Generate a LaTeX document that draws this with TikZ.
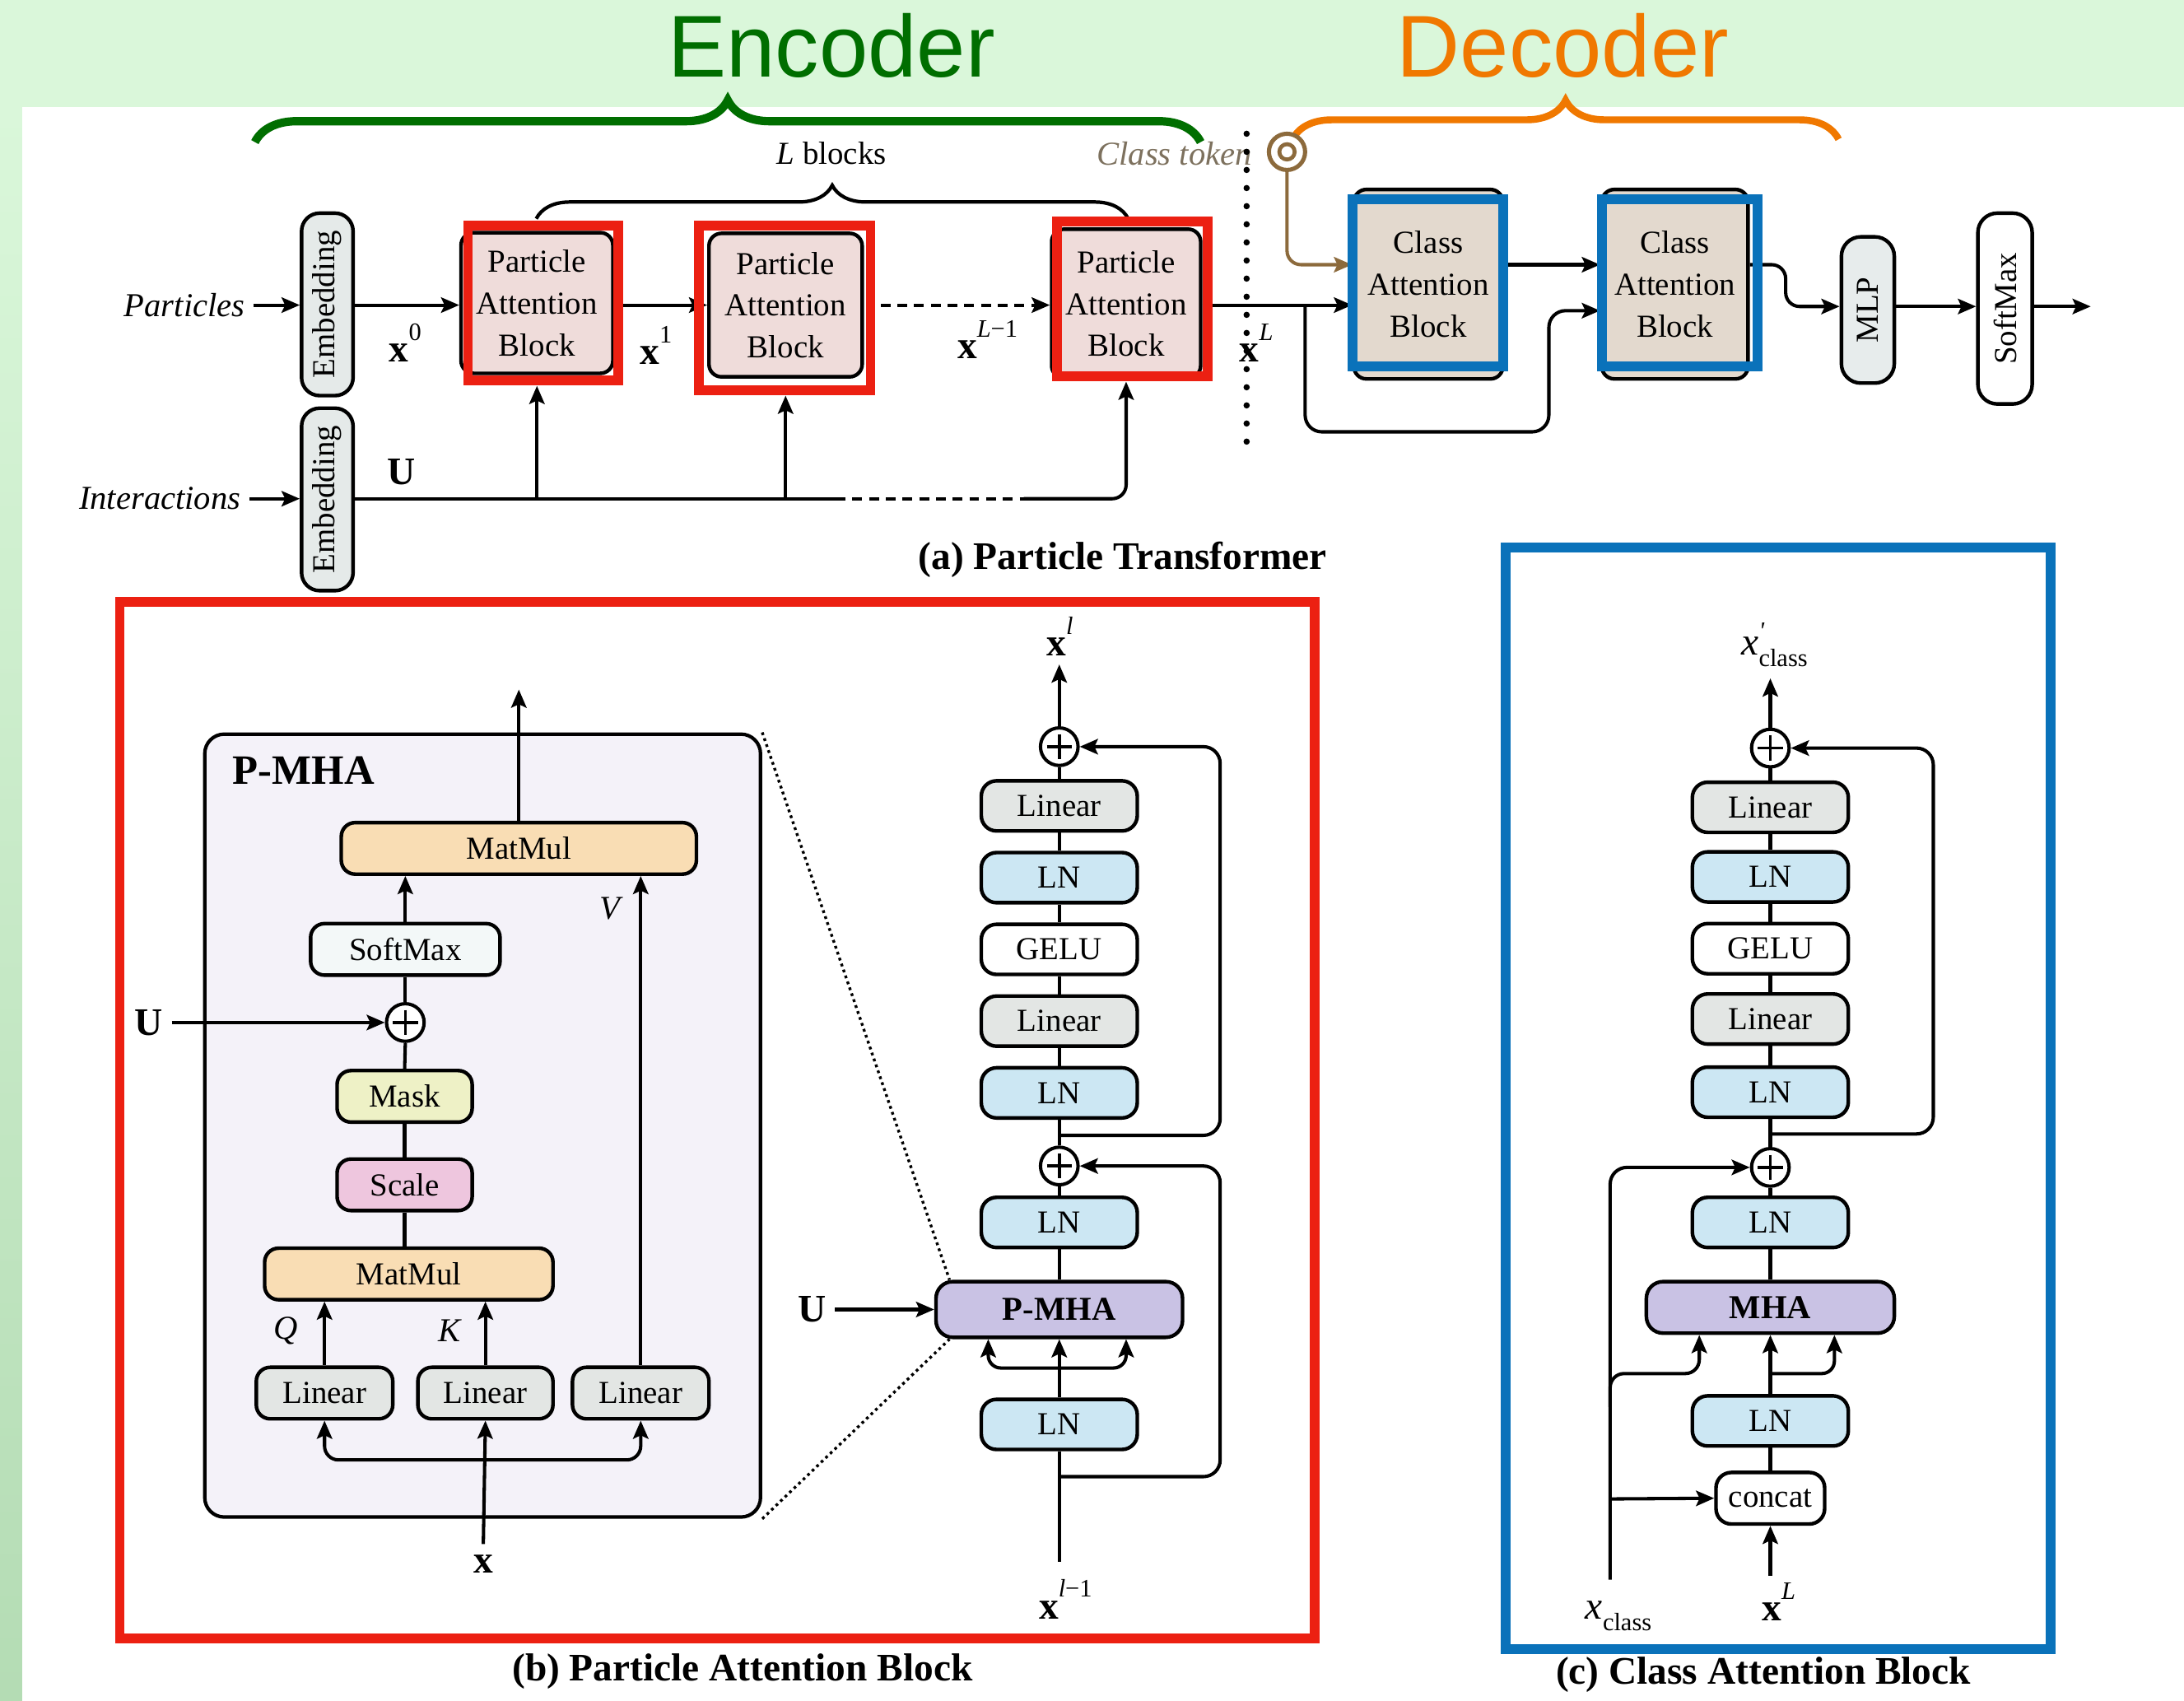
\documentclass[tikz,border=0pt]{standalone}
\usepackage{fontspec}
\setmainfont{Liberation Serif}
\newfontfamily\hdrfont{Liberation Sans}
\usetikzlibrary{arrows.meta,decorations.pathreplacing,calc}
\definecolor{bggreen}{HTML}{DAF7DA}
\definecolor{bgdark}{HTML}{B4DCB4}
\definecolor{encgreen}{HTML}{006E00}
\definecolor{decorange}{HTML}{F07800}
\definecolor{embfill}{HTML}{E5EAE9}
\definecolor{pabfill}{HTML}{EFDCDA}
\definecolor{cabfill}{HTML}{E3D9CE}
\definecolor{mlpfill}{HTML}{E7ECEC}
\definecolor{linfill}{HTML}{E3E6E4}
\definecolor{lnfill}{HTML}{CCE7F3}
\definecolor{pmfill}{HTML}{C9C2E4}
\definecolor{mmfill}{HTML}{F9DDB4}
\definecolor{smfill}{HTML}{F3F8F8}
\definecolor{maskfill}{HTML}{EEF1C6}
\definecolor{scalefill}{HTML}{EEC6DE}
\definecolor{pmhabg}{HTML}{F4F2F9}
\definecolor{frred}{HTML}{EC2012}
\definecolor{frblue}{HTML}{0A72BA}
\definecolor{tokbrown}{HTML}{8C6A3C}
\definecolor{tokgray}{HTML}{7D715E}
\newcommand{\fsz}[2]{\fontsize{#1}{#2}\selectfont}
\newcommand{\bx}{\textbf{x}}
\newcommand{\sups}[1]{\raisebox{0.55em}{\fsz{18}{18}#1}}
\newcommand{\xcls}{\textit{x}\raisebox{-0.3em}{\fsz{18}{18}class}}
\newcommand{\xclsp}{\textit{x}\rlap{\raisebox{0.4em}{\fsz{18}{18}\textit{\textquotesingle}}}\raisebox{-0.3em}{\fsz{18}{18}class}}
\begin{document}
\begin{tikzpicture}[x=1pt,y=-1pt,
  conn/.style={line width=2.4pt},
  arr/.style={conn,-{Stealth[length=13pt,width=11pt,inset=2.5pt]}},
  blk/.style={draw, line width=2.6pt, rounded corners=9pt, inner sep=0pt, align=center, font=\fsz{23}{30}},
  ibox/.style={blk, minimum height=37pt, rounded corners=10pt},
  sbox/.style={blk, minimum width=112pt, minimum height=36pt, rounded corners=11pt},
  plus/.style={circle, draw, line width=2.4pt, minimum size=27pt, inner sep=0pt, fill=white,
    path picture={\draw[line width=2.2pt] ($(path picture bounding box.center)+(-9,0)$) -- ($(path picture bounding box.center)+(9,0)$) ($(path picture bounding box.center)+(0,-9)$) -- ($(path picture bounding box.center)+(0,9)$);}},
  lbl/.style={inner sep=0pt, font=\fsz{28}{30}},
  bflbl/.style={inner sep=0pt, font=\bfseries\fsz{28}{30}},
  itlbl/.style={inner sep=0pt, font=\itshape\fsz{24}{28}},
  redfr/.style={draw=frred, line width=7pt, inner sep=0pt},
  bluefr/.style={draw=frblue, line width=7pt, inner sep=0pt},
]
\useasboundingbox (0,0) rectangle (1568,1221);
% background
\fill[bggreen] (0,0) rectangle (1568,1221);
\shade[top color=bggreen, bottom color=bgdark] (0,77) rectangle (16,1221);
\fill[white] (16,77) rectangle (1568,1221);

% header
\node[anchor=base, text=encgreen, font=\hdrfont\fsz{63}{70}, inner sep=0pt] (enc) at (597,55) {Encoder};
\node[anchor=base, text=decorange, font=\hdrfont\fsz{63}{70}, inner sep=0pt] (dec) at (1122,55) {Decoder};
\draw[encgreen, line width=6pt, decorate, decoration={brace, amplitude=30pt}] (183,102) -- (862,102);
\draw[decorange, line width=5pt, decorate, decoration={brace, amplitude=28pt}] (928,100) -- (1320,100);

% ---------- (a) ----------
\node[blk, fill=embfill, minimum width=37pt, minimum height=131pt, rounded corners=13pt] (emb1) at (235,218.5) {\rotatebox{90}{Embedding}};
\node[blk, fill=embfill, minimum width=37pt, minimum height=131pt, rounded corners=13pt] (emb2) at (235,358.5) {\rotatebox{90}{Embedding}};
\node[itlbl, anchor=east] (part) at (176,219) {Particles};
\node[itlbl, anchor=east] (inter) at (173,358) {Interactions};
\draw[arr] ([xshift=6pt]part.east) -- (emb1.west |- part.east);
\draw[arr] ([xshift=6pt]inter.east) -- (emb2.west |- inter.east);

\node[blk, fill=pabfill, minimum width=109pt, minimum height=101pt] (pab1) at (385.5,217.5) {Particle\\Attention\\Block};
\node[blk, fill=pabfill, minimum width=110pt, minimum height=103pt] (pab2) at (564,219) {Particle\\Attention\\Block};
\node[blk, fill=pabfill, minimum width=107pt, minimum height=107pt] (pab3) at (808.5,218) {Particle\\Attention\\Block};

\node[blk, fill=cabfill, minimum width=107pt, minimum height=136pt] (cab1) at (1025.5,204) {Class\\Attention\\Block};
\node[blk, fill=cabfill, minimum width=105pt, minimum height=136pt] (cab2) at (1202.5,204) {Class\\Attention\\Block};
\node[blk, fill=mlpfill, minimum width=38pt, minimum height=105pt, rounded corners=14pt] (mlp) at (1341,222.5) {\rotatebox{90}{MLP}};
\node[blk, fill=white, minimum width=39pt, minimum height=137pt, rounded corners=14pt] (smax) at (1439.5,221.5) {\rotatebox{90}{SoftMax}};

\draw[arr] (emb1.east |- 0,219) -- (pab1.west |- 0,219);
\node[lbl] (x0) at (291,246) {\bx\sups{0}};
\draw[arr] (pab1.east |- 0,219) -- (pab2.west |- 0,219);
\node[lbl] (x1) at (471,248) {\bx\sups{1}};
\draw[arr, dash pattern=on 7pt off 5pt] ([xshift=12pt]pab2.east) -- (pab3.west |- pab2.east);
\node[lbl] (xLm1) at (709,244) {\bx\sups{\itshape L\upshape −1}};
\draw[arr] (pab3.east |- 0,219) -- (cab1.west |- 0,219);
\node[lbl] (xL) at (902,246) {\bx\sups{\itshape L}};

% L blocks brace
\node[font=\fsz{23}{26}, inner sep=0pt] (lb) at (597,110) {\textit{L} blocks};
\draw[line width=2.5pt, decorate, decoration={brace, amplitude=24pt}] (385,157) -- (810,157);

% U lines
\node[bflbl] (U1) at (288,339) {U};
\draw[conn] (emb2.east |- 0,358) -- (600,358);
\draw[conn, dash pattern=on 7pt off 5pt] (600,358) -- (735,358);
\draw[arr, rounded corners=10pt] (735,358) -- (pab3.south |- 0,358) -- (pab3.south |- 0,274);
\draw[arr] (pab1.south |- 0,358) -- (pab1.south |- 0,277);
\draw[arr] (pab2.south |- 0,358) -- (pab2.south |- 0,284);

% class token
\node[itlbl, text=tokgray, anchor=east] (ctl) at (899,110) {Class token};
\node[circle, draw=tokbrown, line width=3pt, minimum size=26pt, inner sep=0pt, fill=white] (ct) at (924,109) {};
\draw[tokbrown, line width=2.8pt] (ct.center) circle[radius=5.5pt];
\draw[arr, draw=tokbrown, color=tokbrown, rounded corners=10pt] (ct.south) |- (cab1.west |- 0,190);

\draw[arr] (cab1.east |- 0,190) -- (cab2.west |- 0,190);
\coordinate (brL) at (937,219);
\draw[arr, rounded corners=12pt] (brL) -- (937,310) -- (1112,310) -- (1112,223) -- (cab2.west |- 0,223);
\draw[arr, rounded corners=10pt] (cab2.east |- 0,190) -- (1282,190) -- (1282,220) -- (mlp.west |- 0,220);
\draw[arr] (mlp.east |- 0,220) -- (smax.west |- 0,220);
\coordinate (outp) at (1501,220);
\draw[arr] (smax.east |- 0,220) -- (outp);

% dotted separator
\draw[line width=4.5pt, line cap=round, dash pattern=on 0pt off 13pt] (895,96) -- (895,323);

% frames (a)
\node[redfr, minimum width=108pt, minimum height=111pt] (r1) at (390,217.5) {};
\node[redfr, minimum width=123pt, minimum height=118pt] (r2) at (563.5,221) {};
\node[redfr, minimum width=108pt, minimum height=111pt] (r3) at (813,214.5) {};
\node[bluefr, minimum width=108pt, minimum height=120pt] (b1) at (1025,203) {};
\node[bluefr, minimum width=112pt, minimum height=120pt] (b2) at (1206,203) {};

\node[bflbl] (capa) at (806,402) {(a) Particle Transformer};

% ---------- (b) ----------
\node[draw, line width=2.5pt, fill=pmhabg, rounded corners=14pt, minimum width=399pt, minimum height=562pt, inner sep=0pt] (pbig) at (346.5,808) {};
\node[font=\bfseries\fsz{30}{32}, anchor=west, inner sep=0pt] (ptitle) at (167,553) {P-MHA};
\node[ibox, fill=mmfill, minimum width=255pt] (mm1) at (372.5,609) {MatMul};
\node[ibox, fill=smfill, minimum width=136pt] (smx) at (291,681.5) {SoftMax};
\node[plus] (p1) at (291,734) {};
\node[ibox, fill=maskfill, minimum width=97pt] (mask) at (290.5,787) {Mask};
\node[ibox, fill=scalefill, minimum width=97pt] (scl) at (290.5,850.5) {Scale};
\node[ibox, fill=mmfill, minimum width=207pt] (mm2) at (293.5,914.5) {MatMul};
\node[ibox, fill=linfill, minimum width=98pt] (l1) at (233,1000) {Linear};
\node[ibox, fill=linfill, minimum width=97pt] (l2) at (348.5,1000) {Linear};
\node[ibox, fill=linfill, minimum width=98pt] (l3) at (460,1000) {Linear};

\coordinate (mmout) at (372.5,495);
\draw[arr] (mm1.north) -- (mmout);
\draw[arr] (smx.north) -- (smx.north |- mm1.south);
\draw[arr] (l3.north) -- (l3.north |- mm1.south);
\node[itlbl] (V) at (438,652) {V};
\draw[conn] (p1.north) -- (smx.south);
\draw[conn] (mask.north) -- (p1.south);
\draw[conn] (scl.north) -- (mask.south);
\draw[conn] (scl.south) -- (scl.south |- mm2.north);
\node[bflbl] (Ub) at (107,734) {U};
\draw[arr] ([xshift=6pt]Ub.east) -- (p1.west);
\draw[arr] (l1.north) -- (l1.north |- mm2.south);
\draw[arr] (l2.north) -- (l2.north |- mm2.south);
\node[itlbl] (Q) at (205,955) {Q};
\node[itlbl] (K) at (323,955) {K};
\node[bflbl] (xb) at (347,1123) {x};
\draw[arr] ([yshift=8pt]xb.north) -- (l2.south);
\draw[arr, rounded corners=10pt] (l2.south |- 0,1048) -| (l1.south);
\draw[arr, rounded corners=10pt] (l2.south |- 0,1048) -| (l3.south);

% right column (b)
\node[plus] (bp1) at (760.5,536) {};
\node[sbox, fill=linfill] (bl1) at (760.5,578.5) {Linear};
\node[sbox, fill=lnfill] (bl2) at (760.5,630) {LN};
\node[sbox, fill=white] (bg) at (760.5,681.5) {GELU};
\node[sbox, fill=linfill] (bl3) at (760.5,733) {Linear};
\node[sbox, fill=lnfill] (bl4) at (760.5,784.5) {LN};
\node[plus] (bp2) at (760.5,837) {};
\node[sbox, fill=lnfill] (bl5) at (760.5,877.5) {LN};
\node[blk, fill=pmfill, minimum width=177pt, minimum height=40pt, rounded corners=12pt, font=\bfseries\fsz{24}{26}] (bpm) at (760.5,940) {P-MHA};
\node[sbox, fill=lnfill] (bl6) at (760.5,1022.5) {LN};

\node[lbl] (xl) at (761,457) {\bx\sups{\itshape l}};
\coordinate (xlarr) at (760.5,477);
\draw[arr] (bp1.north) -- (xlarr);
\draw[conn] (bl1.north) -- (bp1.south);
\draw[conn] (bl2.north) -- (bl1.south);
\draw[conn] (bg.north) -- (bl2.south);
\draw[conn] (bl3.north) -- (bg.south);
\draw[conn] (bl4.north) -- (bl3.south);
\draw[conn] (bp2.north) -- (bl4.south);
\draw[conn] (bl5.north) -- (bp2.south);
\draw[conn] (bpm.north) -- (bl5.south);
\draw[arr] (bl6.north) -- (bpm.south);
\draw[arr, rounded corners=9pt] (bl6.north |- 0,982) -| ($(bpm.south)+(-51,0)$);
\draw[arr, rounded corners=9pt] (bl6.north |- 0,982) -| ($(bpm.south)+(48,0)$);
\node[lbl] (xlm1) at (765,1148) {\bx\sups{\itshape l\upshape −1}};
\coordinate (xin) at (760.5,1121);
\draw[conn] (xin) -- (bl6.south);
\coordinate (bypA) at (760.5,1060);
\coordinate (bypB) at (760.5,815);
\draw[arr, rounded corners=12pt] (bypA) -| (876,837) -- (bp2.east);
\draw[arr, rounded corners=12pt] (bypB) -| (876,536) -- (bp1.east);
\node[bflbl] (Ub2) at (583,940) {U};
\draw[arr] ([xshift=6pt]Ub2.east) -- (bpm.west);

\draw[line width=2pt, dash pattern=on 2pt off 2.5pt] (pbig.north east) -- ($(bpm.north west)+(11,0)$);
\draw[line width=2pt, dash pattern=on 2pt off 2.5pt] (pbig.south east) -- ($(bpm.south west)+(11,0)$);

\node[redfr, minimum width=858pt, minimum height=744pt] (rb) at (515,804) {};
\node[bflbl] (capb) at (533,1200) {(b) Particle Attention Block};

% ---------- (c) ----------
\node[plus] (cp1) at (1271,537) {};
\node[sbox, fill=linfill] (cl1) at (1271,579.5) {Linear};
\node[sbox, fill=lnfill] (cl2) at (1271,629.5) {LN};
\node[sbox, fill=white] (cg) at (1271,681) {GELU};
\node[sbox, fill=linfill] (cl3) at (1271,731.5) {Linear};
\node[sbox, fill=lnfill] (cl4) at (1271,784) {LN};
\node[plus] (cp2) at (1271,838) {};
\node[sbox, fill=lnfill] (cl5) at (1271,877.5) {LN};
\node[blk, fill=pmfill, minimum width=178pt, minimum height=37pt, rounded corners=12pt, font=\bfseries\fsz{24}{26}] (cmha) at (1271,938.5) {MHA};
\node[sbox, fill=lnfill] (cl6) at (1271,1020) {LN};
\node[blk, fill=white, minimum width=78pt, minimum height=37pt, rounded corners=11pt] (ccat) at (1271,1075.5) {concat};

\node[lbl] (xcp) at (1274,463) {\xclsp};
\coordinate (xcparr) at (1271,487);
\draw[arr] (cp1.north) -- (xcparr);
\draw[conn] (cl1.north) -- (cp1.south);
\draw[conn] (cl2.north) -- (cl1.south);
\draw[conn] (cg.north) -- (cl2.south);
\draw[conn] (cl3.north) -- (cg.south);
\draw[conn] (cl4.north) -- (cl3.south);
\draw[conn] (cp2.north) -- (cl4.south);
\draw[conn] (cl5.north) -- (cp2.south);
\draw[conn] (cmha.north) -- (cl5.south);
\draw[arr] (cl6.north) -- (cmha.south);
\draw[conn] (ccat.north) -- (cl6.south);
\node[lbl] (xLc) at (1277,1150) {\bx\sups{\itshape L}};
\coordinate (xLin) at (1271,1131);
\draw[arr] (xLin) -- (ccat.south);
\node[lbl] (xcl) at (1162,1160) {\xcls};
\coordinate (xcb) at (1156,1134);
\draw[arr, rounded corners=12pt] (xcb) |- (cp2.west);
\coordinate (xcc) at (1156,1076);
\draw[arr] (xcc) -- (ccat.west);
\coordinate (xcm) at (1156,1010);
\draw[arr, rounded corners=10pt] (xcm) -- (1156,986) -| ($(cmha.south)+(-51,0)$);
\draw[arr, rounded corners=9pt] (cl6.north |- 0,986) -| ($(cmha.south)+(46,0)$);
\coordinate (bypC) at (1271,814);
\draw[arr, rounded corners=12pt] (bypC) -| (1388,537) -- (cp1.east);

\node[bluefr, minimum width=391pt, minimum height=791pt] (bc) at (1276.5,788.5) {};
\node[bflbl] (capc) at (1266,1202) {(c) Class Attention Block};
\end{tikzpicture}
\end{document}
